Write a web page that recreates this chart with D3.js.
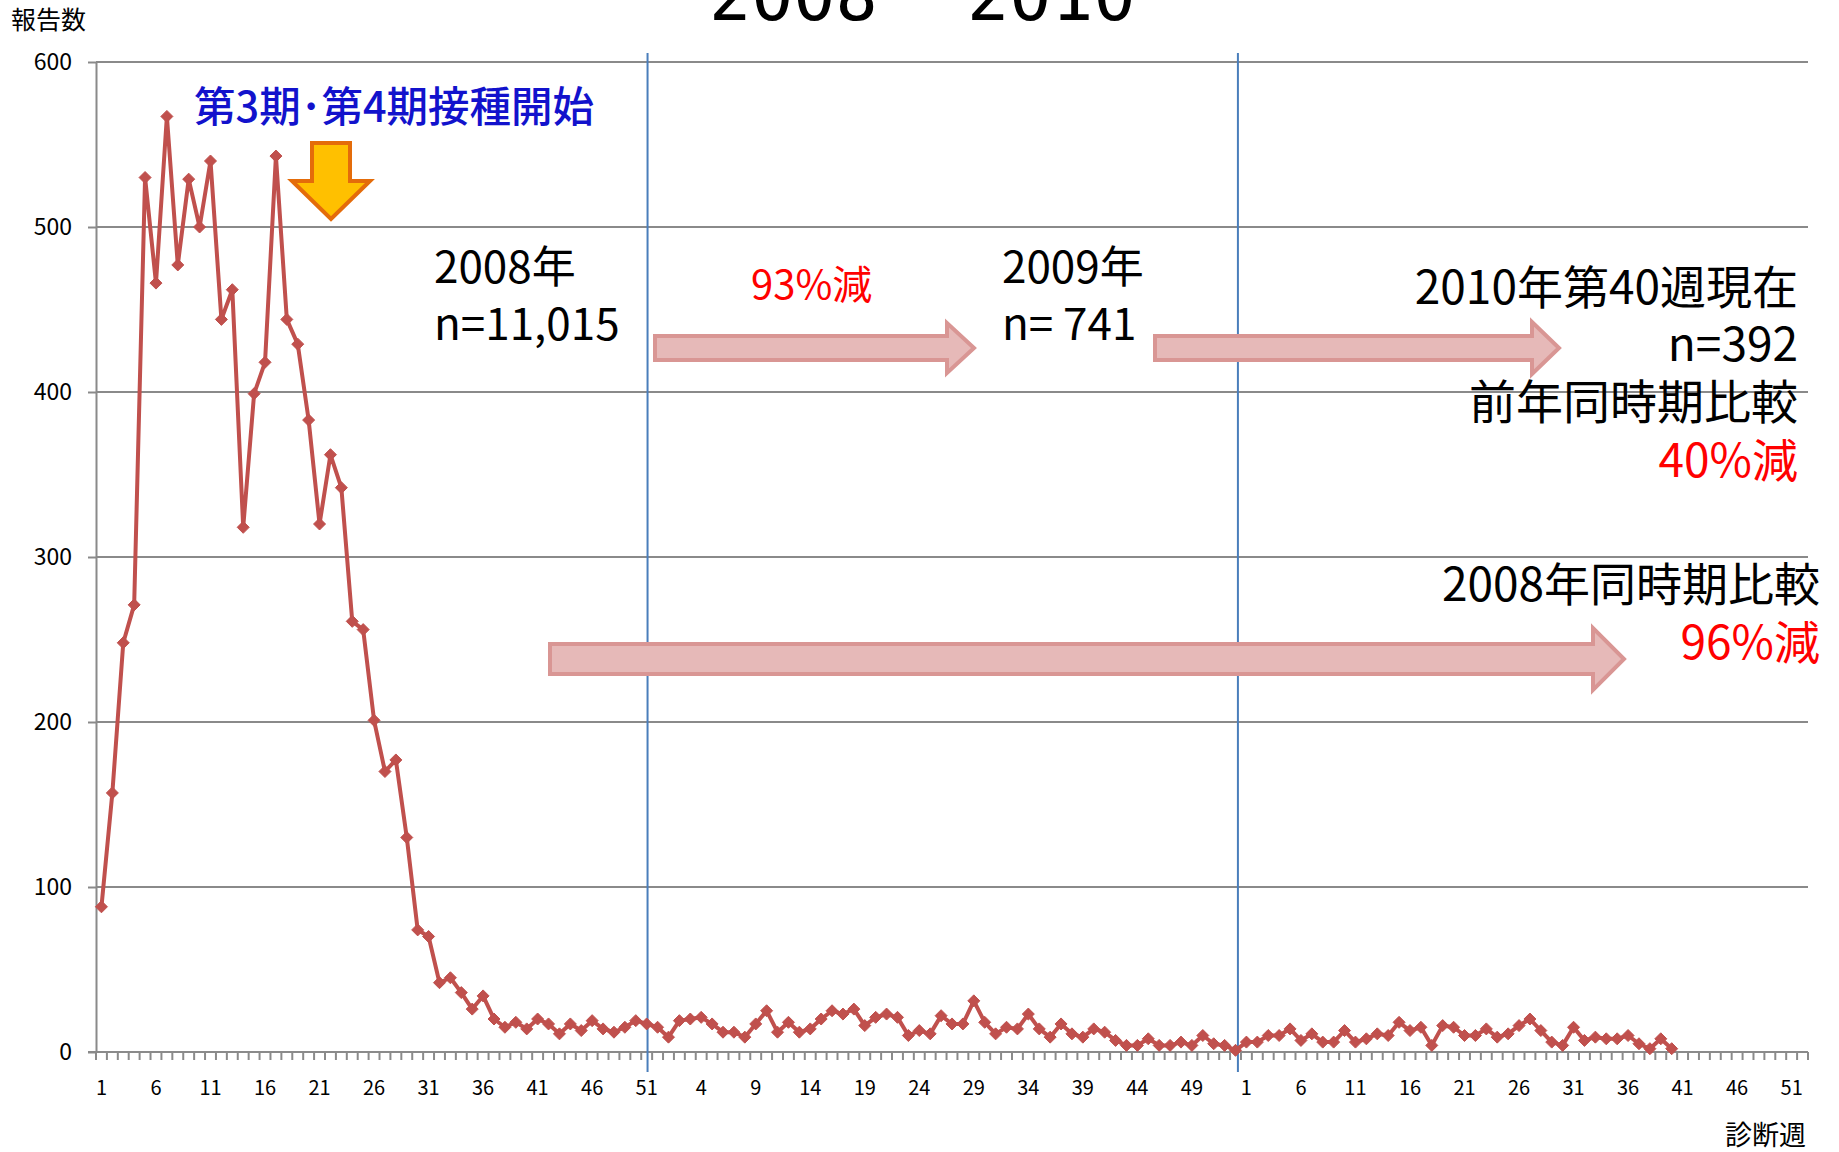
<!DOCTYPE html>
<html lang="ja">
<head>
<meta charset="utf-8">
<script src="https://cdn.jsdelivr.net/npm/d3@7"></script>
<style>
  html, body { margin: 0; padding: 0; background: #fff; }
  svg { display: block; }
  text { font-family: 'Noto Sans CJK JP', sans-serif; }
</style>
</head>
<body>
<svg id="chart" width="1839" height="1152"></svg>
<script>
// Weekly report counts by diagnosis week
const years = [2008, 2009, 2010];
const weeksPerYear = [52, 53, 52];

const counts2008 = [88, 157, 248, 271, 530, 466, 567, 477, 529, 500,
                    540, 444, 462, 318, 399, 418, 543, 444, 429, 383,
                    320, 362, 342, 261, 256, 201, 170, 177, 130, 74,
                    70, 42, 45, 36, 26, 34, 20, 15, 18, 14,
                    20, 17, 11, 17, 13, 19, 14, 12, 15, 19,
                    17, 15];
const counts2009 = [9, 19, 20, 21, 17, 12, 12, 9, 17, 25,
                    12, 18, 12, 14, 20, 25, 23, 26, 16, 21,
                    23, 21, 10, 13, 11, 22, 17, 17, 31, 18,
                    11, 15, 14, 23, 14, 9, 17, 11, 9, 14,
                    12, 7, 4, 4, 8, 4, 4, 6, 4, 10,
                    5, 4, 1];
const counts2010 = [6, 6, 10, 10, 14, 7, 11, 6, 6, 13,
                    6, 8, 11, 10, 18, 13, 15, 4, 16, 15,
                    10, 10, 14, 9, 11, 16, 20, 13, 6, 4,
                    15, 7, 9, 8, 8, 10, 5, 2, 8, 2];

const yTicks = [0, 100, 200, 300, 400, 500, 600];
const labelEvery = 5;

// Year boundary markers: [week key, fraction across the band]
const dividers = [["2008-51", 0.58], ["2009-53", 0.72]];

// ---- build categories and points ----
const categories = [];
years.forEach((y, i) => {
  for (let w = 1; w <= weeksPerYear[i]; w++) categories.push({ key: y + "-" + w, year: y, week: w });
});
const seriesByYear = { 2008: counts2008, 2009: counts2009, 2010: counts2010 };
const points = [];
years.forEach(y => seriesByYear[y].forEach((v, i) => points.push({ key: y + "-" + (i + 1), value: v })));

// ---- layout ----
const svg = d3.select("#chart");
const plot = { left: 96, right: 1808, top: 62, bottom: 1052 };

const x = d3.scaleBand()
  .domain(categories.map(d => d.key))
  .range([plot.left, plot.right])
  .padding(0);
const y = d3.scaleLinear().domain([0, 600]).range([plot.bottom, plot.top]);

const gridColor = "#8a8a8a";

// horizontal gridlines
svg.append("g")
  .selectAll("line")
  .data(yTicks.filter(t => t > 0))
  .join("line")
  .attr("x1", plot.left).attr("x2", plot.right)
  .attr("y1", d => y(d)).attr("y2", d => y(d))
  .attr("stroke", gridColor).attr("stroke-width", 2);

// y axis
const yAxis = svg.append("g")
  .attr("transform", `translate(${plot.left},0)`)
  .call(d3.axisLeft(y).tickValues(yTicks).tickSize(8).tickPadding(16).tickSizeOuter(0));
yAxis.select(".domain").attr("stroke", gridColor).attr("stroke-width", 2);
yAxis.selectAll(".tick line").attr("stroke", gridColor).attr("stroke-width", 2);
yAxis.selectAll(".tick text")
  .attr("fill", "#000").attr("font-size", 23)
  .style("font-family", "'Noto Sans CJK JP', sans-serif");

// x axis: minor ticks at every band edge, labels every fifth week
const edges = categories.map(d => x(d.key)).concat([plot.right]);
svg.append("g")
  .selectAll("line")
  .data(edges)
  .join("line")
  .attr("x1", d => d).attr("x2", d => d)
  .attr("y1", plot.bottom).attr("y2", plot.bottom + 8)
  .attr("stroke", gridColor).attr("stroke-width", 2);
svg.append("line")
  .attr("x1", plot.left - 8).attr("x2", plot.right)
  .attr("y1", plot.bottom).attr("y2", plot.bottom)
  .attr("stroke", gridColor).attr("stroke-width", 2);
svg.append("g")
  .selectAll("text")
  .data(categories.filter((d, i) => i % labelEvery === 0))
  .join("text")
  .attr("x", d => x(d.key) + x.bandwidth() / 2)
  .attr("y", 1095)
  .attr("text-anchor", "middle")
  .attr("font-size", 20)
  .attr("fill", "#000")
  .text(d => d.week);

// year boundary lines
svg.append("g")
  .selectAll("line")
  .data(dividers)
  .join("line")
  .attr("x1", d => x(d[0]) + x.bandwidth() * d[1])
  .attr("x2", d => x(d[0]) + x.bandwidth() * d[1])
  .attr("y1", 53).attr("y2", 1072)
  .attr("stroke", "#4a7ebb").attr("stroke-width", 2);

// axis titles
svg.append("text").attr("x", 11).attr("y", 29).attr("font-size", 25).attr("fill", "#000").text("報告数");
svg.append("text").attr("x", 1806).attr("y", 1145).attr("text-anchor", "end")
  .attr("font-size", 27).attr("fill", "#000").text("診断週");

// title (runs off the top edge)
const title = svg.append("text").attr("y", 20).attr("font-size", 70)
  .style("font-family", "'DejaVu Sans Mono', monospace").attr("fill", "#000");
title.append("tspan").attr("x", 709).text("2008");
title.append("tspan").attr("x", 922).attr("dy", -16).attr("text-anchor", "middle")
  .style("font-family", "'Noto Sans CJK JP', sans-serif").text("～");
title.append("tspan").attr("x", 967).attr("dy", 16).text("2010");

// block arrows
const pinkArrow = (x0, x1, yc, shaftH, headH, headL) =>
  `M${x0},${yc - shaftH / 2} L${x1 - headL},${yc - shaftH / 2} L${x1 - headL},${yc - headH / 2} ` +
  `L${x1},${yc} L${x1 - headL},${yc + headH / 2} L${x1 - headL},${yc + shaftH / 2} L${x0},${yc + shaftH / 2} Z`;
const arrows = [
  [655, 974, 348, 24, 50, 27],
  [1155, 1559, 348, 24, 52, 27],
  [550, 1624, 659, 30, 62, 31]
];
svg.append("g")
  .selectAll("path")
  .data(arrows)
  .join("path")
  .attr("d", d => pinkArrow(...d))
  .attr("fill", "#e6b9b8")
  .attr("stroke", "#d99694")
  .attr("stroke-width", 4)
  .attr("stroke-linejoin", "miter");

// downward marker arrow
svg.append("path")
  .attr("d", "M312,143 L350,143 L350,181 L370,181 L331,219 L292,181 L312,181 Z")
  .attr("fill", "#ffc000")
  .attr("stroke", "#e46c0a")
  .attr("stroke-width", 4)
  .attr("stroke-linejoin", "miter");

// data line
const line = d3.line()
  .x(d => x(d.key) + x.bandwidth() / 2)
  .y(d => y(d.value));
svg.append("path")
  .datum(points)
  .attr("d", line)
  .attr("fill", "none")
  .attr("stroke", "#c0504d")
  .attr("stroke-width", 4)
  .attr("stroke-linejoin", "round");
svg.append("g")
  .selectAll("path")
  .data(points)
  .join("path")
  .attr("transform", d => `translate(${x(d.key) + x.bandwidth() / 2},${y(d.value)})`)
  .attr("d", "M0,-6 L6,0 L0,6 L-6,0 Z")
  .attr("fill", "#c0504d")
  .attr("stroke", "#c0504d")
  .attr("stroke-width", 1);

// annotations
const notes = [
  { text: "第3期･第4期接種開始", x: 194, y: 122, size: 41.5, color: "#1212cc", anchor: "start", weight: 500 },
  { text: "2008年", x: 434, y: 283, size: 44, color: "#000", anchor: "start" },
  { text: "n=11,015", x: 434, y: 340, size: 44, color: "#000", anchor: "start" },
  { text: "93%減", x: 751, y: 299, size: 40, color: "#ff0000", anchor: "start" },
  { text: "2009年", x: 1002, y: 283, size: 44, color: "#000", anchor: "start" },
  { text: "n= 741", x: 1002, y: 340, size: 44, color: "#000", anchor: "start" },
  { text: "2010年第40週現在", x: 1798, y: 304, size: 46, color: "#000", anchor: "end" },
  { text: "n=392", x: 1798, y: 361, size: 46, color: "#000", anchor: "end" },
  { text: "前年同時期比較", x: 1798, y: 419, size: 47, color: "#000", anchor: "end" },
  { text: "40%減", x: 1798, y: 477, size: 46, color: "#ff0000", anchor: "end" },
  { text: "2008年同時期比較", x: 1820, y: 601, size: 46, color: "#000", anchor: "end" },
  { text: "96%減", x: 1820, y: 659, size: 46, color: "#ff0000", anchor: "end" }
];
svg.append("g")
  .selectAll("text")
  .data(notes)
  .join("text")
  .attr("x", d => d.x).attr("y", d => d.y)
  .attr("text-anchor", d => d.anchor)
  .attr("font-size", d => d.size)
  .attr("font-weight", d => d.weight || 400)
  .attr("fill", d => d.color)
  .text(d => d.text);
</script>
</body>
</html>
